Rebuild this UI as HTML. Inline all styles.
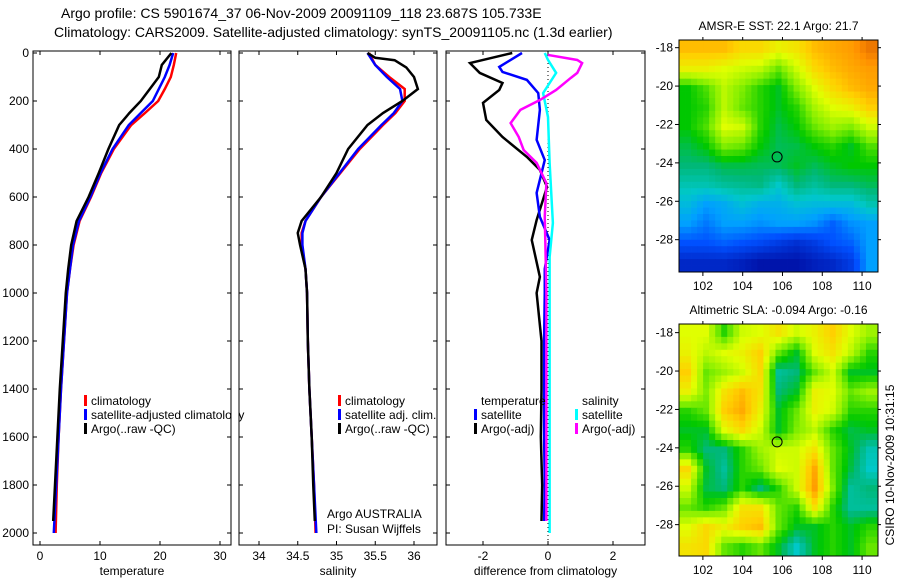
<!DOCTYPE html>
<html><head><meta charset="utf-8"><style>
body{margin:0;background:#fff}
svg text{font-family:"Liberation Sans",sans-serif;font-size:12px;fill:#000}
</style></head><body>
<svg id="c" width="900" height="580" xmlns="http://www.w3.org/2000/svg">
<text x="61" y="18" style="font-size:14px">Argo profile: CS 5901674_37 06-Nov-2009 20091109_118 23.687S 105.733E</text>
<text x="54" y="37" style="font-size:14px">Climatology: CARS2009. Satellite-adjusted climatology: synTS_20091105.nc (1.3d earlier)</text>
<g id="g"></g>
</svg>
<script>
// depth levels (dbar)
const tDepth=[0,50,100,150,200,250,300,400,500,600,700,800,900,1000,1200,1400,1600,1800,2000];
const tClim=[22.7,22.3,21.8,20.8,19.7,17.5,15.2,12.3,10.2,8.5,6.6,5.6,5.0,4.5,4.0,3.5,3.1,2.8,2.6];
const tSat=[22.2,21.6,20.8,19.8,18.8,16.8,14.8,12.1,10.1,8.4,6.5,5.5,5.0,4.5,4.0,3.5,3.1,2.7,2.3];
const tArgoD=[0,50,100,150,200,250,300,400,500,600,700,800,900,1000,1200,1400,1600,1800,1950];
const tArgo=[21.9,20.3,19.8,18.3,16.8,14.9,13.2,11.4,9.8,8.1,6.1,5.2,4.7,4.3,3.8,3.3,2.9,2.5,2.2];
const sDepth=[0,50,100,150,200,250,300,400,500,600,700,750,800,900,1000,1200,1400,1600,1800,2000];
const sClim=[35.42,35.5,35.68,35.88,35.88,35.76,35.6,35.3,35.05,34.8,34.6,34.55,34.55,34.6,34.62,34.63,34.65,34.68,34.71,34.73];
const sSat=[35.4,35.5,35.65,35.82,35.85,35.74,35.58,35.28,35.04,34.8,34.6,34.56,34.56,34.6,34.62,34.63,34.65,34.68,34.71,34.74];
const sArgoD=[0,20,30,60,100,150,200,250,300,400,500,600,700,750,800,900,1000,1200,1400,1600,1800,1950];
const sArgo=[35.4,35.5,35.75,35.9,36.0,36.05,35.85,35.6,35.4,35.15,35.0,34.8,34.55,34.5,34.53,34.6,34.62,34.63,34.65,34.68,34.7,34.72];
const dkD=[0,42,83,125,154,208,279,350,433,487,558,696,779,933,1000,1200,1400,1600,1800,1950];
const dk=[-1.1,-2.4,-2.1,-1.4,-1.5,-2.0,-1.9,-1.4,-0.65,-0.25,-0.03,-0.35,-0.5,-0.25,-0.35,-0.2,-0.2,-0.22,-0.18,-0.2];
const dbD=[0,58,79,112,167,237,362,446,583,683,779,900,1000,1200,1400,1600,1800,1950];
const db=[-0.8,-1.5,-1.4,-0.65,-0.3,-0.25,-0.35,-0.1,-0.35,-0.25,0.05,-0.1,-0.1,-0.12,-0.12,-0.12,-0.1,-0.12];
const dcD=[0,29,83,167,267,458,708,850,1000,1400,1800,2000];
const dc=[-0.1,0,0.25,-0.15,0,0.05,0.15,0.05,0.05,0.05,0.05,0.05];
const dmD=[8,29,42,83,104,154,196,237,292,350,404,458,542,683,800,1000,1400,1800,1950];
const dm=[0,0.9,1.05,0.9,0.7,0.25,-0.25,-0.85,-1.15,-0.9,-0.75,-0.35,-0.05,-0.1,-0.08,-0.05,-0.05,-0.05,-0.05];
const depthTicks=[0,200,400,600,800,1000,1200,1400,1600,1800,2000];
const tTicks=[0,10,20,30], sTicks=[34,34.5,35,35.5,36], dTicks=[-2,0,2];
// map values normalized 0..1 (rows north→south, cols west→east)
const sst=[
[.85,.85,.85,.8,.8,.75,.78,.85,.88,.9,.95],
[.75,.75,.72,.7,.68,.6,.7,.8,.85,.88,.9],
[.52,.58,.68,.62,.55,.5,.62,.72,.8,.85,.88],
[.52,.55,.68,.6,.55,.5,.55,.66,.72,.75,.82],
[.52,.58,.72,.7,.55,.48,.52,.6,.65,.62,.7],
[.48,.52,.62,.6,.52,.47,.48,.52,.55,.5,.58],
[.45,.45,.48,.48,.47,.47,.5,.47,.5,.52,.52],
[.4,.4,.42,.43,.44,.38,.45,.42,.45,.45,.47],
[.35,.3,.32,.36,.33,.33,.36,.35,.35,.35,.4],
[.3,.25,.3,.3,.28,.3,.3,.28,.22,.28,.3],
[.2,.2,.22,.2,.18,.15,.12,.15,.2,.22,.3],
[.1,.1,.1,.08,.05,.05,.05,.08,.1,.15,.3]];
const sla=[
[.72,.72,.55,.7,.72,.78,.7,.75,.82,.72,.65],
[.75,.68,.72,.75,.82,.6,.5,.72,.78,.68,.55],
[.82,.6,.65,.7,.8,.42,.45,.6,.7,.5,.5],
[.75,.62,.78,.85,.78,.45,.5,.75,.72,.6,.65],
[.55,.6,.82,.88,.75,.5,.6,.75,.7,.55,.55],
[.5,.5,.72,.8,.7,.5,.62,.68,.55,.48,.5],
[.55,.45,.45,.55,.65,.7,.7,.78,.6,.5,.4],
[.8,.5,.42,.55,.6,.72,.7,.88,.6,.48,.38],
[.7,.48,.45,.55,.45,.55,.7,.9,.62,.42,.45],
[.6,.55,.6,.78,.78,.6,.55,.78,.55,.42,.42],
[.72,.8,.75,.82,.85,.6,.5,.5,.55,.5,.55],
[.78,.8,.6,.55,.6,.5,.38,.5,.55,.5,.6]];
const lonTicks=[102,104,106,108,110];
const argoPos=[105.73,-23.69];

const NS='http://www.w3.org/2000/svg', G=document.getElementById('g');
function mk(tag,a,p){const e=document.createElementNS(NS,tag);for(const k in a)e.setAttribute(k,a[k]);(p||G).appendChild(e);return e;}
const yD=d=>53+d*0.24;
const xT=v=>40+v*6, xS=v=>259+(v-34)*77.5, xDf=v=>548+v*32.5;
const panels=[[33,231],[239,437],[446,645]];
const pTop=51,pBot=545;
function panel(i,ticks,fx,label,name){
  const [l,r]=panels[i];
  const b=mk('rect',{x:l,y:pTop,width:r-l,height:pBot-pTop,fill:'none',stroke:'#000','stroke-width':1});
  
  
  depthTicks.forEach(d=>{const y=yD(d);
    mk('line',{x1:l,x2:l+4,y1:y,y2:y,stroke:'#000'});mk('line',{x1:r,x2:r-4,y1:y,y2:y,stroke:'#000'});
    if(i==0){const tx=mk('text',{x:l-4,y:y+4,'text-anchor':'end'});tx.textContent=d;
      
      }});
  ticks.forEach(v=>{const x=fx(v);
    mk('line',{x1:x,x2:x,y1:pTop,y2:pTop+4,stroke:'#000'});mk('line',{x1:x,x2:x,y1:pBot,y2:pBot-4,stroke:'#000'});
    const tx=mk('text',{x:x,y:pBot+15,'text-anchor':'middle'});tx.textContent=v;
    
    });
  const tx=mk('text',{x:(l+r)/2,y:575,'text-anchor':'middle'});tx.textContent=label;
  
  
}
function line(ds,vs,fx,col,name,w){
  const p=mk('polyline',{points:ds.map((d,k)=>fx(vs[k])+','+yD(d)).join(' '),fill:'none',stroke:col,'stroke-width':w||2.5});
  
  
}
panel(0,tTicks,xT,'temperature','temperature-panel');
panel(1,sTicks,xS,'salinity','salinity-panel');
panel(2,dTicks,xDf,'difference from climatology','difference-panel');
line(tDepth,tClim,xT,'#f00','temp-climatology-line');
line(tDepth,tSat,xT,'#00f','temp-satellite-line');
line(tArgoD,tArgo,xT,'#000','temp-argo-line');
line(sDepth,sClim,xS,'#f00','sal-climatology-line');
line(sDepth,sSat,xS,'#00f','sal-satellite-line');
line(sArgoD,sArgo,xS,'#000','sal-argo-line');
const zl=mk('line',{x1:xDf(0),x2:xDf(0),y1:pTop,y2:pBot,stroke:'#000','stroke-dasharray':'1,3'});


line(dkD,dk,xDf,'#000','temp-argo-diff-line');
line(dbD,db,xDf,'#00f','temp-satellite-diff-line');
line(dcD,dc,xDf,'#0ff','sal-satellite-diff-line');
line(dmD,dm,xDf,'#f0f','sal-argo-diff-line');
function leg(x,y,col,txt){
  if(col){const r=mk('rect',{x:x,y:y-10,width:3,height:11,fill:col});
    
    }
  const tx=mk('text',{x:x+7,y:y});tx.textContent=txt;
  
  
}
leg(84,405,'#f00','climatology');leg(84,419,'#00f','satellite-adjusted climatology');leg(84,433,'#000','Argo(..raw -QC)');
leg(338,405,'#f00','climatology');leg(338,419,'#00f','satellite adj. clim.');leg(338,433,'#000','Argo(..raw -QC)');
leg(474,405,null,'temperature');leg(474,419,'#00f','satellite');leg(474,433,'#000','Argo(-adj)');
leg(575,405,null,'salinity');leg(575,419,'#0ff','satellite');leg(575,433,'#f0f','Argo(-adj)');
mk('rect',{x:232,y:400,width:6.5,height:25,fill:'#fff'});
mk('line',{x1:231,x2:231,y1:pTop,y2:pBot,stroke:'#000'});mk('line',{x1:239,x2:239,y1:pTop,y2:pBot,stroke:'#000'});
let lbl=mk('text',{x:327,y:518});lbl.textContent='Argo AUSTRALIA';


lbl=mk('text',{x:327,y:533});lbl.textContent='PI: Susan Wijffels';


// maps
const stops=[[0,[0,0,143]],[.2,[0,80,255]],[.3,[0,160,255]],[.38,[0,200,200]],[.45,[0,184,120]],[.52,[0,200,0]],[.62,[128,238,0]],[.72,[224,255,0]],[.82,[255,208,0]],[.92,[255,144,0]],[1,[208,80,0]]];
function cmap(v){for(let i=1;i<stops.length;i++){if(v<=stops[i][0]){const a=stops[i-1],b=stops[i],f=(v-a[0])/(b[0]-a[0]);return 'rgb('+a[1].map((c,k)=>Math.round(c+(b[1][k]-c)*f)).join(',')+')';}}return 'rgb(208,80,0)';}
function sample(data,fr,fc){
  const nr=data.length,nc=data[0].length;
  const r=Math.min(Math.max(fr,0),nr-1),c=Math.min(Math.max(fc,0),nc-1);
  const r0=Math.floor(r),c0=Math.floor(c),r1=Math.min(r0+1,nr-1),c1=Math.min(c0+1,nc-1),a=r-r0,b=c-c0;
  return data[r0][c0]*(1-a)*(1-b)+data[r0][c1]*(1-a)*b+data[r1][c0]*a*(1-b)+data[r1][c1]*a*b;
}
function drawMap(data,y0,h,lat0,title,name){
  const l=679,r=878,lon0=100.8,lon1=110.8,latN=lat0;
  const fx=lo=>l+(lo-lon0)*(r-l)/(lon1-lon0), fy=la=>y0+(latN-la)*19.2;
  const nr=data.length,nc=data[0].length,S=3;
  const cw=(r-l)/(nc*S),ch=h/(nr*S);
  for(let i=0;i<nr*S;i++)for(let j=0;j<nc*S;j++){
    const v=sample(data,(i+0.5)/S-0.5,(j+0.5)/S-0.5);
    const c=mk('rect',{x:l+j*cw,y:y0+i*ch,width:cw+0.4,height:ch+0.4,fill:cmap(v)});
    
    
  }
  const f=mk('rect',{x:l,y:y0,width:r-l,height:h,fill:'none',stroke:'#000'});
  
  
  lonTicks.forEach(lo=>{const x=fx(lo);mk('line',{x1:x,x2:x,y1:y0+h,y2:y0+h+4,stroke:'#000'});mk('line',{x1:x,x2:x,y1:y0,y2:y0-3,stroke:'#000'});
    const tx=mk('text',{x:x,y:y0+h+18,'text-anchor':'middle'});tx.textContent=lo;
    
    });
  for(let la=-16;la>=-28;la-=2){const y=fy(la);if(y<y0+2||y>y0+h-2)continue;
    mk('line',{x1:l,x2:l-4,y1:y,y2:y,stroke:'#000'});mk('line',{x1:r,x2:r+3,y1:y,y2:y,stroke:'#000'});
    const tx=mk('text',{x:l-6,y:y+4,'text-anchor':'end'});tx.textContent=la;
    
    }
  const c=mk('circle',{cx:fx(argoPos[0]),cy:fy(argoPos[1]),r:5,fill:'none',stroke:'#000','stroke-width':1});
  
  
  const tt=mk('text',{x:(l+r)/2,y:y0-10,'text-anchor':'middle'});tt.textContent=title;
  
  
}
drawMap(sst,40,232,-17.6,'AMSR-E SST: 22.1 Argo: 21.7','sst-map');
drawMap(sla,324,232,-17.55,'Altimetric SLA: -0.094 Argo: -0.16','sla-map');
lbl=mk('text',{x:0,y:0,transform:'translate(894,465) rotate(-90)','text-anchor':'middle'});lbl.textContent='CSIRO 10-Nov-2009 10:31:15';


</script>
</body></html>
